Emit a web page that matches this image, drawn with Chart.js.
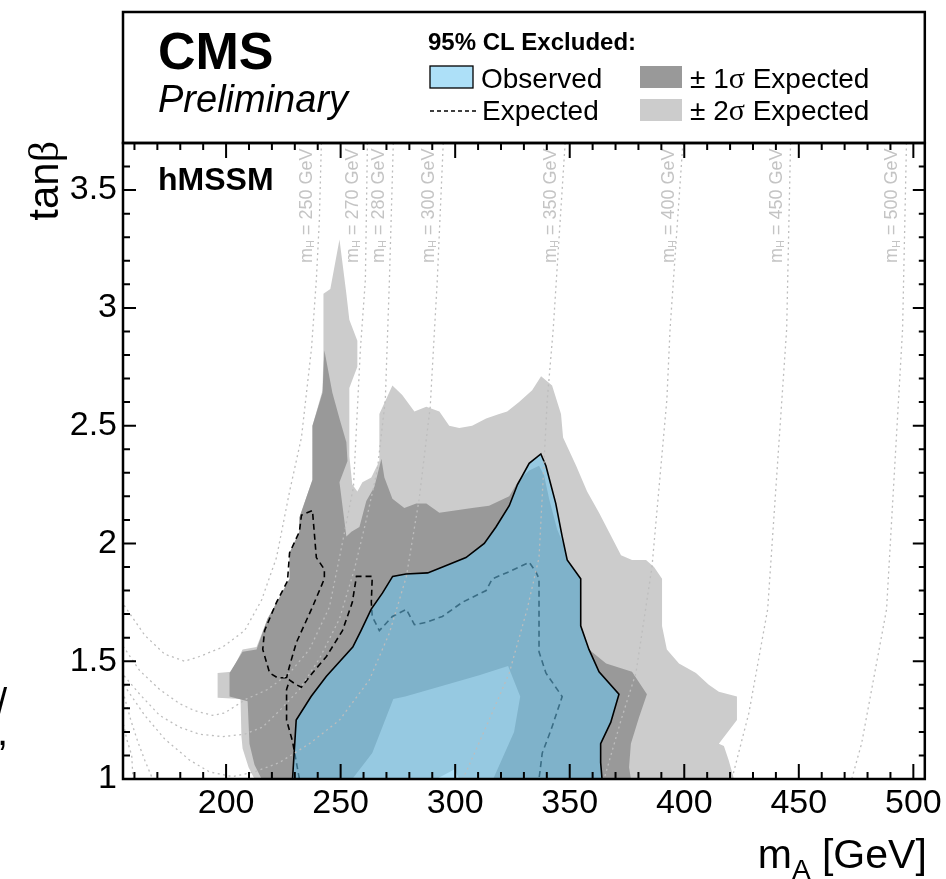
<!DOCTYPE html>
<html>
<head>
<meta charset="utf-8">
<title>hMSSM tanβ exclusion</title>
<script src="https://cdn.jsdelivr.net/npm/chart.js@4.4.1/dist/chart.umd.min.js"></script>
<style>
  html, body { margin: 0; padding: 0; background: #fff; }
  canvas { display: block; }
</style>
</head>
<body>
<canvas id="limitChart" width="946" height="879"></canvas>
<script>
// axis ticks
const massTicks = [200, 250, 300, 350, 400, 450, 500];
const tanbTicks = [1, 1.5, 2, 2.5, 3, 3.5];

// +-2 sigma expected band (outer contour)
const band2Mass = [212.4, 209.8, 207.2, 206.7, 206.3, 196.3, 196.3, 202.4, 207.2, 213.3,
  218.1, 223.3, 227.7, 227.7, 232, 232, 237.7, 237.7, 242.1, 242.5,
  242.5, 245.5, 249.5, 252.5, 253.8, 257.3, 257.3, 253.8, 253.8, 255.1,
  257.3, 259.5, 263.4, 266.9, 266.9, 272.6, 276.9, 282.2, 287.4, 293.1,
  297.4, 301.8, 307.4, 313.5, 319.2, 322.7, 327.9, 333.6, 337.5, 342.3,
  346.2, 347.1, 352.8, 357.6, 362.8, 372.4, 377.2, 383.3, 386.8, 390.3,
  390.3, 392.4, 397.7, 405.1, 410.7, 415.1, 423, 423, 415.1, 417.3,
  419.4, 421.7];
const band2TanB = [1.0, 1.05, 1.13, 1.18, 1.34, 1.345, 1.45, 1.455, 1.55, 1.56,
  1.68, 1.77, 1.85, 1.96, 2.05, 2.11, 2.27, 2.5, 2.65, 2.82,
  3.06, 3.08, 3.29, 3.06, 2.95, 2.86, 2.75, 2.66, 2.37, 2.25,
  2.22, 2.26, 2.28, 2.35, 2.55, 2.67, 2.63, 2.56, 2.58, 2.56,
  2.5, 2.49, 2.5, 2.53, 2.55, 2.56, 2.6, 2.65, 2.71, 2.67,
  2.55, 2.45, 2.33, 2.22, 2.13, 1.95, 1.93, 1.93, 1.9, 1.85,
  1.65, 1.55, 1.49, 1.45, 1.4, 1.37, 1.35, 1.25, 1.15, 1.14,
  1.08, 1.0];

// +-1 sigma expected band
const band1Mass = [215.5, 212.4, 210.2, 209.4, 201.5, 201.5, 207.2, 213.3, 218.1, 223.3,
  227.7, 227.7, 232, 232, 237.7, 237.7, 242.1, 242.9, 246.4, 249.5,
  252.5, 253, 249.5, 252.5, 254.7, 258.2, 261.2, 264.7, 267.8, 269.1,
  272.6, 277.8, 283, 287.4, 293.1, 307.4, 314.8, 323.6, 327.9, 332.3,
  336.6, 338.8, 341, 344.5, 347.5, 348.9, 354.9, 354.9, 358.4, 365.9,
  377.2, 383.7, 380.2, 376.7, 375.9, 376.7];
const band1TanB = [1.0, 1.06, 1.15, 1.33, 1.35, 1.45, 1.54, 1.55, 1.68, 1.77,
  1.85, 1.96, 2.05, 2.11, 2.27, 2.5, 2.64, 2.82, 2.64, 2.53,
  2.43, 2.35, 2.26, 2.03, 2.05, 2.07, 2.18, 2.24, 2.36, 2.28,
  2.19, 2.15, 2.17, 2.17, 2.13, 2.15, 2.16, 2.2, 2.27, 2.31,
  2.33, 2.29, 2.19, 2.06, 1.99, 1.93, 1.85, 1.65, 1.55, 1.49,
  1.455, 1.36, 1.26, 1.15, 1.05, 1.0];

// region where even the -1 sigma expectation excludes (band falls back to 2 sigma)
const band2InnerMass = [255.1, 263.8, 273, 278.2, 310.5, 323.1, 328.4, 325.7, 316.6];
const band2InnerTanB = [1.0, 1.11, 1.34, 1.35, 1.44, 1.48, 1.35, 1.2, 1.0];

// region excluded even by the -2 sigma expectation
const holeMass = [291.8, 299.6, 301.8];
const holeTanB = [1.0, 1.04, 1.0];

// observed exclusion contour
const obsMass = [229, 230.6, 237.1, 243.7, 255.3, 258.9, 263.3, 268.3, 272.7, 278.5,
  288, 294.5, 304.7, 312.7, 317.8, 323.6, 327.2, 332.3, 337.4, 339.6,
  343.9, 346.7, 348.9, 354.8, 354.8, 358.4, 362.8, 371.5, 367.9, 363.5,
  363.5, 364.1];
const obsTanB = [1.0, 1.25, 1.35, 1.435, 1.56, 1.63, 1.72, 1.79, 1.86, 1.87,
  1.875, 1.9, 1.94, 2.0, 2.07, 2.16, 2.25, 2.34, 2.38, 2.33,
  2.17, 2.03, 1.93, 1.85, 1.65, 1.55, 1.455, 1.36, 1.24, 1.15,
  1.07, 1.0];

// median expected contour (two pieces)
const expMass = [232, 229, 226.4, 226.4, 227.7, 230.7, 232.9, 237.7, 243.8, 250.8,
  255.1, 256.9, 263.8, 263.4, 263.8, 266.9, 272.6, 278.7, 282.2, 287.4,
  294.4, 303.1, 313.5, 316.2, 323.6, 332.3, 335.2, 336.6, 336.6, 339.6,
  346.7, 341.9, 338, 336.6];
const expTanB = [1.0, 1.16, 1.25, 1.38, 1.42, 1.4, 1.39, 1.45, 1.52, 1.63,
  1.75, 1.86, 1.86, 1.75, 1.69, 1.63, 1.69, 1.72, 1.655, 1.665,
  1.69, 1.75, 1.8, 1.85, 1.88, 1.92, 1.88, 1.85, 1.54, 1.45,
  1.35, 1.21, 1.11, 1.0];
const expLoopMass = [226.4, 222.4, 219, 216, 216.8, 222, 226.8, 227.7, 232, 232.9,
  237.7, 239.4, 242.9, 242.9, 237.7, 230.7, 227.7, 226.4];
const expLoopTanB = [1.43, 1.43, 1.45, 1.55, 1.63, 1.75, 1.84, 1.96, 2.05, 2.12,
  2.14, 1.94, 1.89, 1.85, 1.73, 1.58, 1.48, 1.43];

// iso-mH contours
const mHValues = [250, 270, 280, 300, 350, 400, 450, 500];
const mHLineMass = [
  [241.6, 240.7, 239.4, 237.3, 232.9, 227.7, 222, 215.5, 208.1, 198.5, 188.4, 181.9, 173.2, 164.5, 155.3],
  [261.7, 260.8, 258.6, 255.6, 249.9, 245.1, 236.4, 227.7, 218.1, 208.9, 199.3, 194.1, 186.3, 179.7, 171, 162.3, 155.3],
  [273, 271.3, 269.5, 266, 261.2, 256, 249.5, 240.7, 232, 223.3, 215.9, 208.1, 198.5, 188.4, 179.7, 171, 162.3, 155.3],
  [294.8, 292.2, 289.1, 284.3, 278.7, 271.3, 262.5, 249.5, 236.4, 223.3, 212.4, 202.8, 192.8, 184.1, 173.2, 164.5, 155.3],
  [348, 342.8, 340.2, 336.6, 331.4, 323.6, 314.8, 304.8, 300.4],
  [399.4, 393.8, 392.4, 385.9, 378.9, 372.4, 365, 362.8],
  [446.4, 444.7, 436.4, 428.2, 420.8, 419.4],
  [497, 495.3, 488.3, 477.4, 473.1, 471.7]
];
const mHLineTanB = [
  [3.7, 3.37, 3.12, 2.83, 2.45, 2.22, 1.94, 1.76, 1.63, 1.56, 1.52, 1.5, 1.53, 1.61, 1.74],
  [3.7, 3.12, 2.82, 2.24, 1.96, 1.73, 1.55, 1.45, 1.38, 1.34, 1.28, 1.27, 1.29, 1.32, 1.38, 1.46, 1.56],
  [3.7, 3.12, 2.61, 2.31, 2.1, 1.89, 1.68, 1.51, 1.38, 1.29, 1.22, 1.19, 1.18, 1.19, 1.22, 1.27, 1.36, 1.44],
  [3.7, 3.12, 2.58, 2.19, 1.86, 1.62, 1.42, 1.25, 1.15, 1.07, 1.03, 1.01, 1.03, 1.08, 1.17, 1.27, 1.4],
  [3.7, 2.91, 2.61, 1.94, 1.72, 1.45, 1.25, 1.03, 0.95],
  [3.7, 2.91, 2.61, 1.9, 1.45, 1.25, 1.0, 0.95],
  [3.7, 2.91, 1.72, 1.28, 1.0, 0.95],
  [3.7, 2.91, 1.72, 1.15, 1.0, 0.95]
];
// low-mA branches coming back in from below tanb = 1
const mHBranchMass = [[171, 167.9, 164.5, 161.4, 158.4, 155.3], [159.7, 159.2, 158.8, 156.6, 155.3]];
const mHBranchTanB = [[0.95, 1.0, 1.08, 1.16, 1.25, 1.36], [0.95, 1.03, 1.1, 1.17, 1.23]];

const SANS = '"Liberation Sans", Arial, Helvetica, sans-serif';
const SERIF = '"Liberation Serif", "Times New Roman", serif';
const LIGHT_GREY = '#cccccc';
const DARK_GREY = '#999999';
const OBS_FILL = 'rgba(106, 199, 242, 0.55)';
const DOTTED = '#bdbdbd';

function points(masses, tanbs) {
  return masses.map((m, i) => ({ x: m, y: tanbs[i] }));
}

function area(label, masses, tanbs, color, order) {
  return {
    label,
    data: points(masses, tanbs),
    fill: 'shape',
    backgroundColor: color,
    borderColor: 'rgba(0,0,0,0)',
    borderWidth: 0,
    order
  };
}

function dashed(label, masses, tanbs) {
  return {
    label,
    data: points(masses, tanbs),
    fill: false,
    borderColor: '#000',
    borderWidth: 1.6,
    borderDash: [6, 4],
    order: 6
  };
}

function dotted(label, masses, tanbs) {
  return {
    label,
    data: points(masses, tanbs),
    fill: false,
    borderColor: DOTTED,
    borderWidth: 1.3,
    borderDash: [2, 3.5],
    order: 1
  };
}

const obsPoints = points(obsMass, obsTanB);
obsPoints.push(obsPoints[0]);

const datasets = [
  area('±2σ expected', band2Mass, band2TanB, LIGHT_GREY, 10),
  area('±1σ expected', band1Mass, band1TanB, DARK_GREY, 9),
  area('±2σ inner', band2InnerMass, band2InnerTanB, LIGHT_GREY, 8),
  area('-2σ hole', holeMass, holeTanB, '#ffffff', 7),
  dashed('Expected', expMass, expTanB),
  dashed('Expected (loop)', expLoopMass, expLoopTanB),
  {
    label: 'Observed',
    data: obsPoints,
    fill: 'shape',
    backgroundColor: OBS_FILL,
    borderColor: '#000',
    borderWidth: 1.6,
    order: 4
  }
];
mHValues.forEach((mH, i) => datasets.push(dotted('mH = ' + mH, mHLineMass[i], mHLineTanB[i])));
mHBranchMass.forEach((m, i) => datasets.push(dotted('mH branch ' + i, m, mHBranchTanB[i])));

// text with a subscript, drawn left to right from (x, y)
function subText(ctx, x, y, main, sub, rest, size, subSize, drop, family) {
  ctx.font = `${size}px ${family}`;
  ctx.fillText(main, x, y);
  let w = ctx.measureText(main).width;
  ctx.font = `${subSize}px ${family}`;
  ctx.fillText(sub, x + w, y + drop);
  w += ctx.measureText(sub).width;
  ctx.font = `${size}px ${family}`;
  ctx.fillText(rest, x + w, y);
  return w + ctx.measureText(rest).width;
}

const decorations = {
  id: 'decorations',
  afterDatasetsDraw(chart) {
    const { ctx, chartArea: a, scales: { x, y } } = chart;
    ctx.save();

    // iso-mH labels
    ctx.fillStyle = '#c4c4c4';
    ctx.textBaseline = 'middle';
    ctx.textAlign = 'left';
    mHValues.forEach((mH, i) => {
      const px = x.getPixelForValue(mHLineMass[i][0]) - 14;
      ctx.save();
      ctx.translate(px, 263);
      ctx.rotate(-Math.PI / 2);
      subText(ctx, 0, 0, 'm', 'H', ` = ${mH} GeV`, 18, 11, 4, SANS);
      ctx.restore();
    });

    // frame
    ctx.strokeStyle = '#000';
    ctx.lineWidth = 2.5;
    ctx.strokeRect(a.left, a.top, a.right - a.left, a.bottom - a.top);

    // ticks on all four sides, pointing inwards
    ctx.lineWidth = 2;
    ctx.beginPath();
    for (let v = 160; v <= 505; v += 10) {
      const px = x.getPixelForValue(v);
      const len = massTicks.includes(v) ? 15 : 7;
      ctx.moveTo(px, a.bottom);
      ctx.lineTo(px, a.bottom - len);
      ctx.moveTo(px, a.top);
      ctx.lineTo(px, a.top + len);
    }
    for (let i = 11; i < 37; i++) {
      const v = i / 10;
      const py = y.getPixelForValue(v);
      const major = i % 5 === 0;
      ctx.moveTo(a.left, py);
      ctx.lineTo(a.left + (major ? 13 : 7), py);
      ctx.moveTo(a.right, py);
      ctx.lineTo(a.right - (major ? 12 : 6), py);
    }
    ctx.stroke();

    // model label
    ctx.fillStyle = '#000';
    ctx.textBaseline = 'alphabetic';
    ctx.font = `bold 32px ${SANS}`;
    ctx.fillText('hMSSM', 158, 190);
    ctx.restore();
  },
  afterDraw(chart) {
    const { ctx, chartArea: a } = chart;
    ctx.save();
    ctx.fillStyle = '#000';
    ctx.textBaseline = 'alphabetic';
    ctx.textAlign = 'left';

    // header box
    ctx.strokeStyle = '#000';
    ctx.lineWidth = 2.5;
    ctx.strokeRect(a.left, 12, a.right - a.left, a.top - 12);

    ctx.font = `bold 52px ${SANS}`;
    ctx.fillText('CMS', 158, 69);
    ctx.font = `italic 38px ${SANS}`;
    ctx.fillText('Preliminary', 158, 112);

    ctx.font = `bold 24px ${SANS}`;
    ctx.fillText('95% CL Excluded:', 428, 50);

    // legend entries
    ctx.fillStyle = '#fff';
    ctx.fillRect(430, 66, 43, 22);
    ctx.fillStyle = OBS_FILL;
    ctx.fillRect(430, 66, 43, 22);
    ctx.lineWidth = 1.3;
    ctx.strokeRect(430, 66, 43, 22);

    ctx.setLineDash([4, 3]);
    ctx.beginPath();
    ctx.moveTo(430, 111);
    ctx.lineTo(476, 111);
    ctx.stroke();
    ctx.setLineDash([]);

    ctx.fillStyle = DARK_GREY;
    ctx.fillRect(640, 66, 42, 22);
    ctx.fillStyle = LIGHT_GREY;
    ctx.fillRect(640, 99, 42, 22);

    ctx.fillStyle = '#000';
    ctx.font = `28px ${SANS}`;
    ctx.fillText('Observed', 481, 88);
    ctx.fillText('Expected', 482, 120);
    [['1', 88], ['2', 120]].forEach(([n, by]) => {
      ctx.font = `28px ${SANS}`;
      ctx.fillText('± ' + n, 690, by);
      let w = ctx.measureText('± ' + n).width;
      ctx.font = `30px ${SERIF}`;
      ctx.fillText('σ', 690 + w, by);
      w += ctx.measureText('σ').width;
      ctx.font = `28px ${SANS}`;
      ctx.fillText(' Expected', 690 + w, by);
    });

    // x title, right aligned at the frame edge
    ctx.font = `41px ${SANS}`;
    let total = ctx.measureText('m').width + ctx.measureText(' [GeV]').width;
    ctx.font = `28px ${SANS}`;
    total += ctx.measureText('A').width;
    subText(ctx, a.right + 2 - total, 868, 'm', 'A', ' [GeV]', 41, 28, 11, SANS);

    // y title, rotated, ending at the top of the frame
    ctx.save();
    ctx.translate(58, 141);
    ctx.rotate(-Math.PI / 2);
    ctx.font = `42px ${SANS}`;
    const wTan = ctx.measureText('tan').width;
    ctx.font = `42px ${SERIF}`;
    const wBeta = ctx.measureText('β').width;
    ctx.font = `42px ${SANS}`;
    ctx.fillText('tan', -(wTan + wBeta), 0);
    ctx.font = `42px ${SERIF}`;
    ctx.fillText('β', -wBeta, 0);
    ctx.restore();

    // cropped glyph remnants at the left edge
    ctx.font = `40px ${SANS}`;
    ctx.fillText('/', -4, 717);
    ctx.fillText(',', -3, 745);

    ctx.restore();
  }
};

new Chart(document.getElementById('limitChart').getContext('2d'), {
  type: 'line',
  data: { datasets },
  options: {
    responsive: false,
    animation: false,
    events: [],
    layout: { padding: { left: 0, right: 20, top: 143, bottom: 0 } },
    elements: {
      point: { radius: 0 },
      line: { tension: 0 }
    },
    plugins: {
      legend: { display: false },
      tooltip: { enabled: false }
    },
    scales: {
      x: {
        type: 'linear',
        min: 155,
        max: 505,
        grid: { display: false, drawTicks: false },
        border: { display: false },
        afterBuildTicks: s => { s.ticks = massTicks.map(v => ({ value: v })); },
        afterFit: s => { s.height = 100; },
        ticks: {
          color: '#000',
          font: { family: SANS, size: 34 },
          padding: 4,
          autoSkip: false,
          maxRotation: 0,
          callback: v => String(v)
        }
      },
      y: {
        type: 'linear',
        min: 1,
        max: 3.7,
        grid: { display: false, drawTicks: false },
        border: { display: false },
        afterBuildTicks: s => { s.ticks = tanbTicks.map(v => ({ value: v })); },
        afterFit: s => { s.width = 123; },
        ticks: {
          color: '#000',
          font: { family: SANS, size: 34 },
          padding: 6,
          callback: v => String(v)
        }
      }
    }
  },
  plugins: [decorations]
});
</script>
</body>
</html>
